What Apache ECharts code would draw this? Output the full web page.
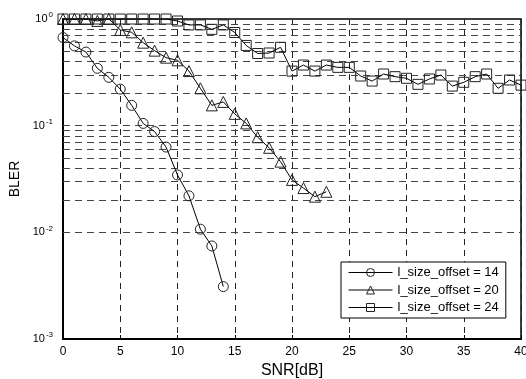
<!DOCTYPE html>
<html>
<head>
<meta charset="utf-8">
<script src="https://cdn.jsdelivr.net/npm/echarts@6/dist/echarts.min.js"></script>
<style>html,body{margin:0;padding:0;background:#fff}#c{width:526px;height:379px}</style>
</head>
<body>
<div id="c"></div>
<script>
const snr14 = [0,1,2,3,4,5,6,7,8,9,10,11,12,13,14];
const bler14 = [0.67,0.56,0.49,0.345,0.284,0.22,0.155,0.105,0.088,0.063,0.0345,0.022,0.0107,0.00745,0.0031];
const snr20 = [0,1,2,3,4,5,6,7,8,9,10,11,12,13,14,15,16,17,18,19,20,21,22,23];
const bler20 = [1.0,1.0,1.0,0.96,1.0,0.79,0.75,0.6,0.505,0.434,0.41,0.325,0.224,0.155,0.167,0.129,0.105,0.078,0.062,0.046,0.031,0.026,0.0216,0.024];
const snr24 = [0,1,2,3,4,5,6,7,8,9,10,11,12,13,14,15,16,17,18,19,20,21,22,23,24,25,26,27,28,29,30,31,32,33,34,35,36,37,38,39,40];
const bler24 = [1,1,1,1,1,1,1,1,1,1,0.958,0.88,0.88,0.8,0.88,0.747,0.565,0.475,0.48,0.543,0.325,0.37,0.325,0.37,0.352,0.352,0.292,0.262,0.305,0.288,0.278,0.244,0.274,0.2985,0.235,0.255,0.288,0.305,0.224,0.268,0.24];
const seriesNames = ['l_size_offset = 14','l_size_offset = 20','l_size_offset = 24'];
const gridLevels = [0.002,0.003,0.004,0.005,0.006,0.007,0.008,0.009,0.01,0.02,0.03,0.04,0.05,0.06,0.07,0.08,0.09,0.1,0.2,0.3,0.4,0.5,0.6,0.7,0.8,0.9];
const xTicks = [0,5,10,15,20,25,30,35,40];

const FONT = 'Liberation Sans';
const chart = echarts.init(document.getElementById('c'), null, {renderer:'canvas'});
function pairs(xs, ys){ return xs.map((x,i)=>[x, ys[i]]); }
const dash = [7,5];
function mk(name, xs, ys, sym, size, withGrid){
  const s = {
    name: name, type: 'line', data: pairs(xs, ys),
    symbol: sym, symbolSize: size, showAllSymbol: true,
    lineStyle: {color:'#000', width:1},
    itemStyle: {color:'rgba(0,0,0,0)', borderColor:'#222', borderWidth:1},
    emphasis: {disabled:true}, animation:false, z: 5
  };
  if (withGrid) {
    s.markLine = {
      silent: true, symbol: ['none','none'], animation:false,
      label: {show:false},
      lineStyle: {color:'#444', width:1, type: dash},
      data: gridLevels.map(v => ({yAxis: v}))
    };
  }
  return s;
}
chart.setOption({
  backgroundColor: '#fff',
  animation: false,
  grid: {left:63, right:5, top:19, bottom:40, show:true, borderColor:'#000', borderWidth:1.5, backgroundColor:'transparent', outerBoundsMode:'none', containLabel:false},
  xAxis: {
    type:'value', min:0, max:40, interval:5,
    name:'SNR[dB]', nameLocation:'middle', nameGap:22,
    nameTextStyle:{fontFamily:FONT, fontSize:16, color:'#000'},
    axisLine:{show:true, lineStyle:{color:'#000', width:2}},
    axisTick:{show:true, inside:true, length:4, lineStyle:{color:'#000'}},
    axisLabel:{fontFamily:FONT, fontSize:12, color:'#000', margin:7, formatter: v => xTicks.includes(v) ? String(v) : ''},
    splitLine:{show:true, lineStyle:{color:'#222', width:1, type:[6,5]}}
  },
  yAxis: {
    type:'log', logBase:10, min:0.001, max:1,
    name:'BLER', nameLocation:'middle', nameGap:37,
    nameTextStyle:{fontFamily:FONT, fontSize:14, color:'#000'},
    axisLine:{show:true, lineStyle:{color:'#000', width:2}},
    axisTick:{show:false},
    splitLine:{show:false},
    axisLabel:{
      fontFamily:FONT, color:'#000', margin:10,
      formatter: v => '{b|10}{s|' + Math.round(Math.log10(v)) + '}',
      rich:{
        b:{fontFamily:FONT, fontSize:11, color:'#000'},
        s:{fontFamily:FONT, fontSize:8, color:'#000', padding:[0,0,8,1]}
      }
    }
  },
  legend: {
    orient:'vertical', left:341, top:262,
    padding:[4,7,4,7], itemGap:4.5, itemWidth:44, itemHeight:10, itemTextGap:4,
    backgroundColor:'#fff', borderColor:'#000', borderWidth:1,
    textStyle:{fontFamily:FONT, fontSize:13, color:'#000'},
    lineStyle:{width:1, color:'#000'},
    itemStyle:{borderWidth:1, borderColor:'#222', color:'rgba(0,0,0,0)'},
    data: seriesNames
  },
  series: [
    mk(seriesNames[0], snr14, bler14, 'circle', 10, true),
    mk(seriesNames[1], snr20, bler20, 'triangle', 11, false),
    mk(seriesNames[2], snr24, bler24, 'rect', 10, false)
  ]
});
</script>
</body>
</html>
